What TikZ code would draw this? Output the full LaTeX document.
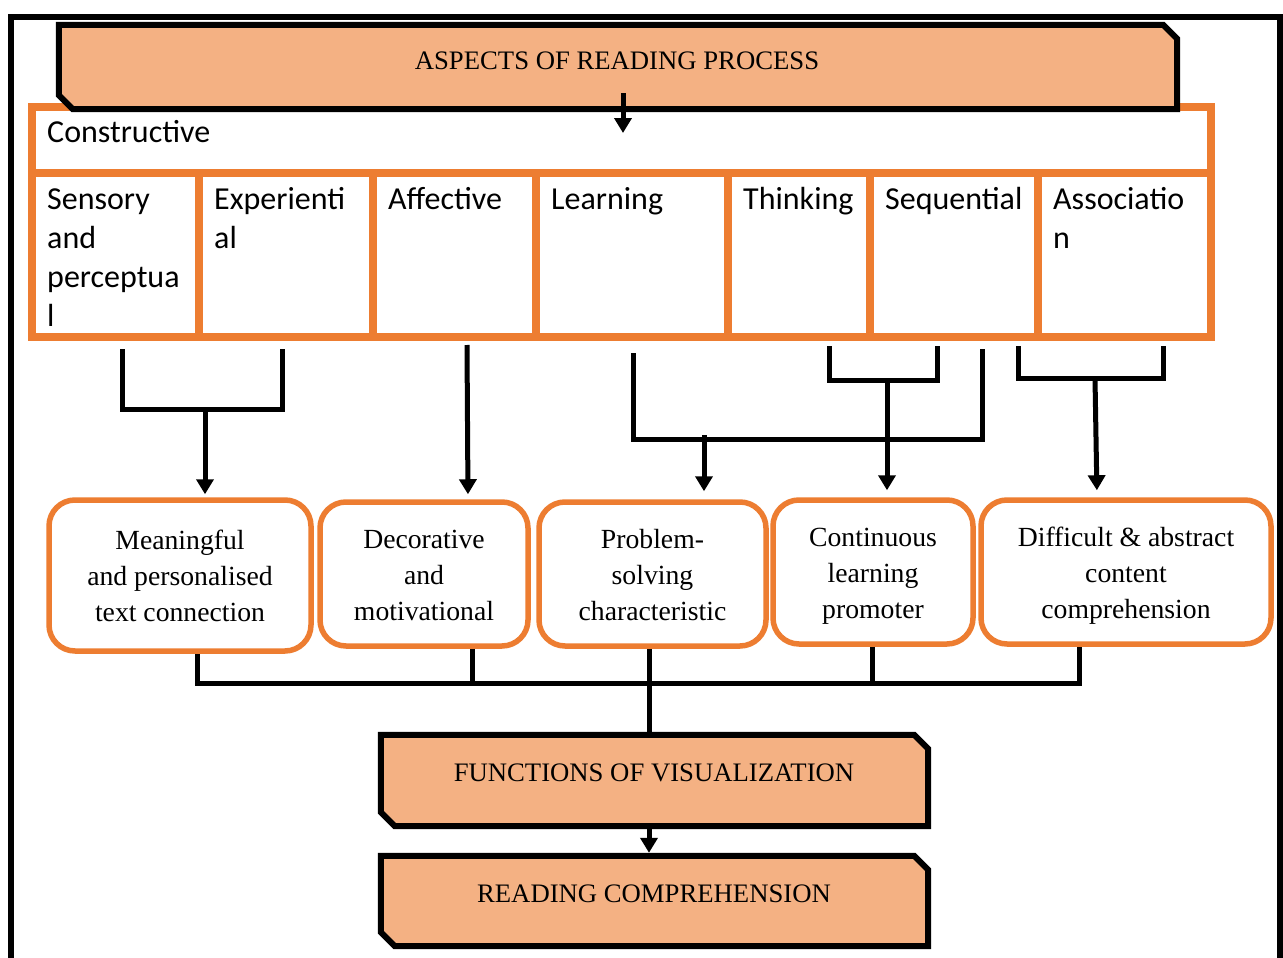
\documentclass[tikz,border=0pt]{standalone}
\usepackage{fontspec}
\newfontfamily\cellfont{Carlito}
\newfontfamily\tnrfont{Liberation Serif}
\usetikzlibrary{arrows.meta,calc}
\definecolor{boxorange}{HTML}{ED7D31}
\definecolor{peach}{HTML}{F4B183}
\newcommand\highstrut{\rule{0pt}{31pt}}
\begin{document}
\begin{tikzpicture}[x=1pt,y=-1pt,
  cell/.style={draw=boxorange,line width=8pt,rectangle,inner sep=0pt},
  celltext/.style={anchor=north west,inner sep=0pt,align=left,font=\cellfont\fontsize{32}{39}\selectfont},
  roundbox/.style={draw=boxorange,line width=5.5pt,rounded corners=26pt,fill=white,align=center,inner sep=0pt,font=\tnrfont\fontsize{27.7}{36}\selectfont},
  chamframe/.style={rectangle,inner sep=0pt},
  chamline/.style={draw=black,line width=6pt,fill=peach,line join=miter},
  captext/.style={anchor=base,inner sep=0pt,font=\tnrfont\fontsize{26.7}{30}\selectfont},
  conn/.style={draw=black,line width=5pt},
  arr/.style={conn,-{Triangle[width=17pt,length=15pt]}},
]
\useasboundingbox (0,0) rectangle (1283,958);
\clip (0,0) rectangle (1283,958);
\fill[white] (0,0) rectangle (1283,958);
\draw[line width=6pt] (11,17) rectangle (1280,975);

% table cells
\node[cell,minimum width=1179pt,minimum height=66pt] (cons) at (621.5,140) {};
\node[cell,minimum width=167pt,minimum height=164pt] (sens) at (115.5,255) {};
\node[cell,minimum width=174pt,minimum height=164pt] (expe) at (286,255) {};
\node[cell,minimum width=163pt,minimum height=164pt] (affe) at (454.5,255) {};
\node[cell,minimum width=192pt,minimum height=164pt] (lear) at (632,255) {};
\node[cell,minimum width=142pt,minimum height=164pt] (thin) at (799,255) {};
\node[cell,minimum width=168pt,minimum height=164pt] (sequ) at (954,255) {};
\node[cell,minimum width=173pt,minimum height=164pt] (asso) at (1124.5,255) {};

\node[celltext] (cons-t) at ($(cons.north west)+(19,12)$) {\strut Constructive};
\node[celltext] (sens-t) at ($(sens.north west)+(19,12.5)$) {\strut Sensory\\and\\perceptua\\l};
\node[celltext] (expe-t) at ($(expe.north west)+(19,12.5)$) {\strut Experienti\\al};
\node[celltext] (affe-t) at ($(affe.north west)+(19,12.5)$) {\strut Affective};
\node[celltext] (lear-t) at ($(lear.north west)+(19,12.5)$) {\strut Learning};
\node[celltext] (thin-t) at ($(thin.north west)+(19,12.5)$) {\strut Thinking};
\node[celltext] (sequ-t) at ($(sequ.north west)+(19,12.5)$) {\strut Sequential};
\node[celltext] (asso-t) at ($(asso.north west)+(19,12.5)$) {\strut Associatio\\n};

% header
\node[chamframe,minimum width=1118pt,minimum height=84pt] (head) at (618,67) {};
\draw[chamline] (head.north west) -- ([xshift=-14pt]head.north east) -- ([yshift=-14pt]head.north east)
  -- (head.south east) -- ([xshift=14pt]head.south west) -- ([yshift=14pt]head.south west) -- cycle;
\node[captext] (head-t) at (617,70) {ASPECTS OF READING PROCESS};
\draw[arr] ($(head.south -| 623,0)+(0,-16)$) -- ($(cons.north -| 623,0)+(0,30)$);

% bottom boxes
\node[chamframe,minimum width=547pt,minimum height=91pt] (func) at (654.5,780.5) {};
\draw[chamline] (func.north west) -- ([xshift=-14pt]func.north east) -- ([yshift=-14pt]func.north east)
  -- (func.south east) -- ([xshift=14pt]func.south west) -- ([yshift=14pt]func.south west) -- cycle;
\node[captext] (func-t) at (654,781) {FUNCTIONS OF VISUALIZATION};
\node[chamframe,minimum width=547pt,minimum height=90pt] (read) at (654.5,901) {};
\draw[chamline] (read.north west) -- ([xshift=-14pt]read.north east) -- ([yshift=-14pt]read.north east)
  -- (read.south east) -- ([xshift=14pt]read.south west) -- ([yshift=14pt]read.south west) -- cycle;
\node[captext] (read-t) at (654,902) {READING COMPREHENSION};

% function boxes
\node[roundbox,minimum width=262pt,minimum height=151pt] (mean) at (180,575.5) {\highstrut Meaningful\\and personalised\\text connection\strut};
\node[roundbox,minimum width=208pt,minimum height=144pt] (deco) at (424,574) {\highstrut Decorative\\and\\motivational\strut};
\node[roundbox,minimum width=227pt,minimum height=144pt] (prob) at (652.5,574) {\highstrut Problem-\\solving\\characteristic\strut};
\node[roundbox,minimum width=200pt,minimum height=144pt] (cont) at (873,572) {\highstrut Continuous\\learning\\promoter\strut};
\node[roundbox,minimum width=290pt,minimum height=144pt] (diff) at (1126,572) {\highstrut Difficult \& abstract\\content\\comprehension\strut};

% connectors: table -> boxes
\coordinate (j1) at (205,409);
\draw[conn] ($(sens.south -| 122,0)+(0,8)$) |- (j1) -| ($(expe.south -| 282,0)+(0,8)$);
\draw[arr,shorten >=3pt] (j1) -- (mean.north -| j1);

\draw[arr,shorten >=5pt] ($(affe.south -| 467,0)+(0,4)$) -- (deco.north -| 468,0);

\coordinate (j2) at (704,435);
\draw[conn] ($(lear.south -| 633,0)+(0,12)$) |- ($(sequ.south -| 982,0)+(0,98)$) -- ($(sequ.south -| 982,0)+(0,8)$);
\draw[arr,shorten >=8pt] (j2) -- (prob.north -| j2);

\coordinate (j3) at (887,380);
\draw[conn] ($(thin.south -| 829,0)+(0,5)$) |- (j3) -| ($(sequ.south -| 937,0)+(0,5)$);
\draw[arr,shorten >=7pt] (j3) -- (cont.north -| j3);

\coordinate (j4) at (1095,378);
\draw[conn] ($(sequ.south -| 1018,0)+(0,5)$) |- (j4) -| ($(asso.south -| 1163,0)+(0,5)$);
\draw[arr,shorten >=7pt] (j4) -- (diff.north -| 1097,0);

% connectors: boxes -> functions
\coordinate (j5) at (649,683);
\draw[conn] (mean.south -| 197,0) |- (j5) -| (diff.south -| 1079,0);
\draw[conn] (deco.south -| 472,0) -- (j5 -| 472,0);
\draw[conn] (cont.south -| 872,0) -- (j5 -| 872,0);
\draw[conn] (prob.south -| 649,0) -- (func.north -| 649,0);
\draw[arr,shorten >=3pt] (func.south -| 649,0) -- (read.north -| 649,0);
\end{tikzpicture}
\end{document}
